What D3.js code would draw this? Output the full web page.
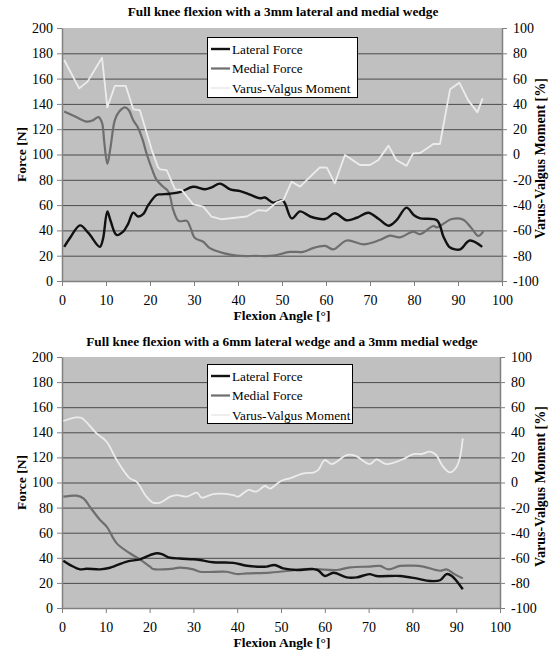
<!DOCTYPE html>
<html>
<head>
<meta charset="utf-8">
<script src="https://cdn.jsdelivr.net/npm/d3@7"></script>
<style>
  html, body { margin: 0; padding: 0; background: #fff; }
  svg { display: block; }
  svg text { font-family: "Liberation Serif", "Times New Roman", serif; fill: #000; }
</style>
</head>
<body>
<svg id="chart" width="556" height="650"></svg>
<script>
// ---------- DATA ----------
const seriesNames = ["Lateral Force", "Medial Force", "Varus-Valgus Moment"];
const titles = [
  "Full knee flexion with a 3mm lateral and medial wedge",
  "Full knee flexion with a 6mm lateral wedge and a 3mm medial wedge"
];
const xTicks = [0, 10, 20, 30, 40, 50, 60, 70, 80, 90, 100];
const forceTicks = [0, 20, 40, 60, 80, 100, 120, 140, 160, 180, 200];
const momentTicks = [-100, -80, -60, -40, -20, 0, 20, 40, 60, 80, 100];

// Chart 1: 3mm lateral and medial wedge  ([flexion angle, value])
const lateral1 = [[0.5,27],[2,35],[4.1,44],[6,38],[8.6,27],[9.3,33],[10.3,55],[11,48],[12.4,36.4],[13.9,39],[15,45],[16.2,54],[17.3,51],[18.5,53],[19.6,60],[21.5,68],[22.3,68.5],[24.5,69],[27,70.5],[29.8,74.5],[32.5,72.5],[34,74],[35.9,77],[38.2,72.5],[40.5,71],[42,69.3],[45,65.4],[46.1,66],[48,62],[50.2,63.5],[52.2,49.5],[54.1,55],[56.4,51],[59.8,49],[62,53.5],[64.7,48],[67,50],[69.6,54],[72,49],[74.2,43.7],[76,48],[78.3,58],[80,52],[81.4,49.5],[85.2,48],[86.7,35],[88,27],[89.3,25],[90.5,25],[92.7,32],[95.5,27]];
const medial1 = [[0.5,134],[3,130],[5.6,126],[7,127],[8.3,129.5],[9.1,125],[9.6,110],[10.3,92.5],[11,105],[12,127],[13,134],[14.3,137.3],[15.2,135],[16.2,127],[17.3,121],[18.3,112],[19.2,101],[20.5,88],[21.5,80],[23,74.5],[24.2,70.6],[25.3,56],[26.5,47.5],[28.4,47.5],[29.1,43],[30.2,34],[32.1,31],[33.6,26],[36.7,22],[39.7,20],[44,19.8],[48,20],[51.8,23],[54.8,23],[57,26],[59.8,27.7],[61.7,25],[64.7,32],[68.5,29],[72.2,32.4],[74.5,35.8],[76.8,34.5],[79.8,39],[81.3,37],[84.4,43.5],[85.2,42.4],[88.6,49],[91.2,48.5],[93.1,41.6],[94.6,35.6],[95.8,39.5]];
const moment1 = [[0.5,74.7],[3.9,52.3],[5.8,57.6],[9.1,76.5],[10.3,37.3],[12,54.2],[14.5,54.2],[16.2,35.7],[17.7,35],[20.4,3.6],[21.8,-10],[22.3,-11.7],[23.8,-12.3],[25.7,-27.5],[27.2,-28],[29.8,-39.4],[32.1,-41.2],[34,-49.2],[36.3,-51.2],[42,-49],[44.6,-43.9],[46.5,-44.5],[48.8,-37.8],[50.3,-36],[52.2,-21.5],[54.1,-25.4],[58.6,-10.1],[60.2,-10.4],[62,-22.8],[64.3,-0.4],[67.7,-8.3],[70,-8.3],[71.9,-4.3],[74.2,7],[76,-4.3],[78.3,-9],[79.8,0.9],[81.4,1.2],[84.4,8.3],[85.9,8.3],[88.2,51.5],[90.3,56.8],[92.3,43],[94.4,33.3],[95.6,44.4]];

// Chart 2: 6mm lateral wedge and 3mm medial wedge
const lateral2 = [[0.3,37.7],[2,34],[4.1,30.8],[5.6,31.3],[8.7,30.8],[11,32.1],[14.8,37],[17.8,38.8],[20.1,42.2],[21.6,43.6],[22.8,43],[24.3,40.4],[26.9,39.4],[30,38.8],[31.5,38.2],[34.5,36.4],[39.1,36],[42.2,33.7],[46.7,33],[48.5,34.3],[50.5,31.6],[53.6,30.3],[57.4,31],[58.5,30],[60,25.5],[62,28.1],[65,24.4],[67.3,24.4],[70.2,27],[71.8,25.5],[77.2,25.5],[80.9,23.6],[84,21.5],[86.3,22.1],[87.8,27],[89,25.5],[91.5,14.9]];
const medial2 = [[0.3,88.7],[3.3,89.5],[4.9,87.4],[6.5,80],[8.7,70.1],[10.2,64.8],[12.5,51.5],[15.5,43.6],[17.8,38.8],[20.1,32.9],[20.8,31.1],[24.7,31.1],[26.9,32.1],[30,30.8],[31.5,28.9],[37.6,28.9],[39.9,27.1],[42.2,27.6],[47.5,28.2],[52,29.7],[55.1,31],[58.2,31],[62.7,30.3],[65.8,32.4],[70.3,33],[72.6,33.5],[74.5,30.8],[77.2,33.5],[80.2,33.7],[82.5,33],[86.3,29.7],[87.8,30.8],[89.7,26.8],[91.5,23.6]];
const moment2 = [[0.3,49],[3.3,51.9],[4.5,51.4],[7.9,39.2],[10.2,32.5],[12.5,17.9],[15.5,3.3],[17,0.7],[19.3,-11.3],[20.8,-16],[22.4,-16],[24.7,-11.3],[26.2,-10],[28.5,-11.3],[30.8,-8.1],[31.9,-12.1],[34.5,-9.2],[39.1,-10],[40.2,-11.3],[42.5,-6],[44.4,-7.3],[46.3,-2.8],[47.5,-4.8],[49.4,-0.2],[50.5,2],[52,3.3],[55.1,7.3],[57.4,7.9],[58.5,10],[60,17.9],[61.6,14.7],[65,21.9],[66.9,21.4],[70.3,14.7],[71.8,18.5],[74,14.7],[77.8,18.5],[80.2,22.7],[82.1,22.7],[84,24.6],[85.4,21.9],[87,12.6],[88.6,8.1],[90.1,12.6],[90.9,20.6],[91.5,35.2]];

// ---------- DRAW ----------
const svg = d3.select("#chart");
const colors = ["#111111", "#6e6e6e", "#ececec"];
const widths = [2.4, 2.2, 1.8];
const fmt = d => String(d);

function drawChart(cfg) {
  const { left, right, top, bottom, title, titleY, xLabelY, legend, data, momentCurve } = cfg;
  const x = d3.scaleLinear().domain([0, 100]).range([left, right]);
  const yF = d3.scaleLinear().domain([0, 200]).range([bottom, top]);
  const yM = d3.scaleLinear().domain([-100, 100]).range([bottom, top]);
  const g = svg.append("g");

  // plot background
  g.append("rect").attr("x", left).attr("y", top)
    .attr("width", right - left).attr("height", bottom - top)
    .attr("fill", "#c0c0c0");

  // gridlines
  g.append("g").selectAll("line").data(forceTicks.filter(t => t > 0 && t < 200)).join("line")
    .attr("x1", left).attr("x2", right)
    .attr("y1", d => yF(d) + 0.5).attr("y2", d => yF(d) + 0.5)
    .attr("stroke", "#4a4a4a").attr("stroke-width", 1);

  // axes
  const axisStyle = sel => {
    sel.attr("font-family", null).attr("font-size", null);
    sel.select(".domain").attr("stroke", "#808080").attr("stroke-width", 1.5);
    sel.selectAll(".tick line").attr("stroke", "#808080").attr("stroke-width", 1);
    sel.selectAll(".tick text")
      .attr("font-family", "Liberation Serif")
      .style("font-family", "'Liberation Serif', serif")
      .style("font-size", "14px").attr("fill", "#111");
  };
  g.append("g").attr("transform", `translate(0,${bottom})`)
    .call(d3.axisBottom(x).tickValues(xTicks).tickFormat(fmt).tickSize(5).tickSizeOuter(0).tickPadding(9))
    .call(axisStyle);
  g.append("g").attr("transform", `translate(${left},0)`)
    .call(d3.axisLeft(yF).tickValues(forceTicks).tickFormat(fmt).tickSize(5).tickSizeOuter(0).tickPadding(4))
    .call(axisStyle);
  g.append("g").attr("transform", `translate(${right},0)`)
    .call(d3.axisRight(yM).tickValues(momentTicks).tickFormat(fmt).tickSize(5).tickSizeOuter(0).tickPadding(6))
    .call(axisStyle);

  // lines
  const lineF = d3.line().x(d => x(d[0])).y(d => yF(d[1])).curve(d3.curveCatmullRom.alpha(0.5));
  const lineM = d3.line().x(d => x(d[0])).y(d => yM(d[1])).curve(momentCurve);
  g.append("path").datum(data[1]).attr("d", lineF).attr("fill", "none")
    .attr("stroke", colors[1]).attr("stroke-width", widths[1]).attr("stroke-linejoin", "round");
  g.append("path").datum(data[0]).attr("d", lineF).attr("fill", "none")
    .attr("stroke", colors[0]).attr("stroke-width", widths[0]).attr("stroke-linejoin", "round");
  g.append("path").datum(data[2]).attr("d", lineM).attr("fill", "none")
    .attr("stroke", colors[2]).attr("stroke-width", widths[2]).attr("stroke-linejoin", "round");

  // title
  g.append("text").attr("x", (left + right) / 2 + 1).attr("y", titleY)
    .attr("text-anchor", "middle").style("font-weight", "bold").style("font-size", "13.3px")
    .text(title);

  // axis titles
  g.append("text").attr("x", 282).attr("y", xLabelY).attr("text-anchor", "middle")
    .style("font-weight", "bold").style("font-size", "13.5px").text("Flexion Angle [°]");
  g.append("text").attr("transform", `translate(26,${(top + bottom) / 2}) rotate(-90)`)
    .attr("text-anchor", "middle").style("font-weight", "bold").style("font-size", "13.5px")
    .text("Force [N]");
  g.append("text").attr("transform", `translate(545,${(top + bottom) / 2 + 4}) rotate(-90)`)
    .attr("text-anchor", "middle").style("font-weight", "bold").style("font-size", "14px")
    .text("Varus-Valgus Moment [%]");

  // legend
  const lg = g.append("g");
  lg.append("rect").attr("x", legend.x + 0.5).attr("y", legend.y + 0.5)
    .attr("width", legend.w).attr("height", legend.h)
    .attr("fill", "#fff").attr("stroke", "#000").attr("stroke-width", 1);
  seriesNames.forEach((name, i) => {
    const cy = legend.y + 12 + i * 19.5;
    lg.append("line").attr("x1", legend.x + 4).attr("x2", legend.x + 23)
      .attr("y1", cy).attr("y2", cy)
      .attr("stroke", colors[i]).attr("stroke-width", widths[i]);
    lg.append("text").attr("x", legend.x + 25).attr("y", cy + 4.5)
      .style("font-size", "13.2px").text(name);
  });
}

drawChart({
  left: 62, right: 502, top: 28, bottom: 281,
  title: titles[0], titleY: 16, xLabelY: 320,
  legend: { x: 207, y: 37, w: 150, h: 60 },
  data: [lateral1, medial1, moment1],
  momentCurve: d3.curveLinear
});
drawChart({
  left: 62, right: 500, top: 357, bottom: 608,
  title: titles[1], titleY: 346, xLabelY: 647,
  legend: { x: 207, y: 364, w: 145, h: 59 },
  data: [lateral2, medial2, moment2],
  momentCurve: d3.curveCatmullRom.alpha(0.5)
});
</script>
</body>
</html>
